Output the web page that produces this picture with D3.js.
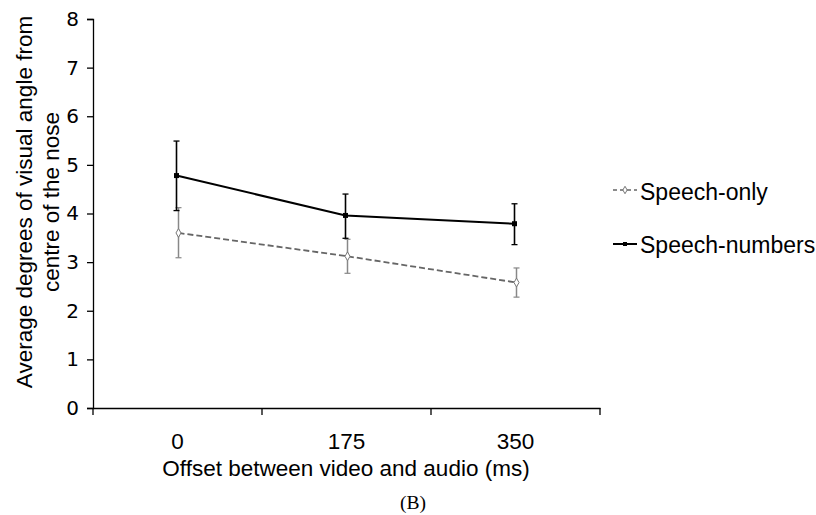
<!DOCTYPE html>
<html>
<head>
<meta charset="utf-8">
<script src="https://cdn.jsdelivr.net/npm/d3@7/dist/d3.min.js"></script>
<style>
  body { margin: 0; background: #fff; }
  text { font-family: "Liberation Sans", Arial, sans-serif; fill: #000; }
</style>
</head>
<body>
<div id="chart"></div>
<script>
// datos
const categories = ['0', '175', '350'];
const yTicks = [0, 1, 2, 3, 4, 5, 6, 7, 8];
const yTitleLines = ['Average degrees of visual angle from', 'centre of the nose'];

const speechOnly = [3.60, 3.12, 2.58];
const speechOnlyLow = [3.09, 2.77, 2.28];
const speechOnlyHigh = [4.12, 3.47, 2.88];

const speechNumbers = [4.78, 3.96, 3.79];
const speechNumbersLow = [4.06, 3.49, 3.36];
const speechNumbersHigh = [5.49, 4.40, 4.20];

const width = 816;
const height = 515;
const plotLeft = 93;
const plotRight = 600;
const plotTop = 19;
const plotBottom = 408;

const svg = d3.select('#chart')
  .append('svg')
  .attr('width', width)
  .attr('height', height);

const x = d3.scaleBand()
  .domain(categories)
  .range([plotLeft, plotRight]);

const y = d3.scaleLinear()
  .domain([0, 8])
  .range([plotBottom, plotTop]);

// eje y
const yAxis = svg.append('g')
  .attr('transform', `translate(${plotLeft},0)`)
  .call(d3.axisLeft(y).tickValues(yTicks).tickSize(6).tickPadding(8));
yAxis.select('.domain').attr('stroke', '#000').attr('stroke-width', 1.3);
yAxis.selectAll('.tick line').attr('stroke', '#000').attr('stroke-width', 1.3);
yAxis.selectAll('.tick text')
  .attr('font-size', 20)
  .style('font-family', '"DejaVu Sans", sans-serif');

// eje x
const xAxis = svg.append('g')
  .attr('transform', `translate(0,${plotBottom})`)
  .call(d3.axisBottom(x).tickSize(0).tickPadding(0));
xAxis.select('.domain').attr('stroke', '#000').attr('stroke-width', 1.3);
xAxis.selectAll('.tick text')
  .attr('font-size', 22.5)
  .attr('y', 41)
  .attr('dy', 0);

// ticks entre categorias
const boundaries = [plotLeft].concat(categories.map(c => x(c) + x.bandwidth()));
svg.append('g')
  .selectAll('line')
  .data(boundaries)
  .enter()
  .append('line')
  .attr('x1', d => d)
  .attr('x2', d => d)
  .attr('y1', plotBottom)
  .attr('y2', plotBottom + 7)
  .attr('stroke', '#000')
  .attr('stroke-width', 1.3);

const cx = (i) => x(categories[i]) + x.bandwidth() / 2;

// serie speech-only (gris, discontinua)
const line = d3.line()
  .x((d, i) => cx(i) + 1)
  .y(d => y(d));

svg.append('path')
  .datum(speechOnly)
  .attr('d', line)
  .attr('fill', 'none')
  .attr('stroke', '#666')
  .attr('stroke-width', 1.8)
  .attr('stroke-dasharray', '6,3');

const errOnly = svg.append('g');
speechOnly.forEach((v, i) => {
  const px = cx(i) + 1;
  errOnly.append('line')
    .attr('x1', px).attr('x2', px)
    .attr('y1', y(speechOnlyLow[i])).attr('y2', y(speechOnlyHigh[i]))
    .attr('stroke', '#888').attr('stroke-width', 1.5);
  [speechOnlyLow[i], speechOnlyHigh[i]].forEach(e => {
    errOnly.append('line')
      .attr('x1', px - 3).attr('x2', px + 3)
      .attr('y1', y(e)).attr('y2', y(e))
      .attr('stroke', '#888').attr('stroke-width', 1.2);
  });
});

svg.append('g')
  .selectAll('path')
  .data(speechOnly)
  .enter()
  .append('path')
  .attr('d', d3.symbol(d3.symbolDiamond, 22))
  .attr('transform', (d, i) => `translate(${cx(i) + 1},${y(d)})`)
  .attr('fill', '#fff')
  .attr('stroke', '#777')
  .attr('stroke-width', 1);

// serie speech-numbers (negra)
const line2 = d3.line()
  .x((d, i) => cx(i) - 1)
  .y(d => y(d));

svg.append('path')
  .datum(speechNumbers)
  .attr('d', line2)
  .attr('fill', 'none')
  .attr('stroke', '#000')
  .attr('stroke-width', 2);

const errNum = svg.append('g');
speechNumbers.forEach((v, i) => {
  const px = cx(i) - 1;
  errNum.append('line')
    .attr('x1', px).attr('x2', px)
    .attr('y1', y(speechNumbersLow[i])).attr('y2', y(speechNumbersHigh[i]))
    .attr('stroke', '#000').attr('stroke-width', 1.6);
  [speechNumbersLow[i], speechNumbersHigh[i]].forEach(e => {
    errNum.append('line')
      .attr('x1', px - 3).attr('x2', px + 3)
      .attr('y1', y(e)).attr('y2', y(e))
      .attr('stroke', '#000').attr('stroke-width', 1.3);
  });
});

svg.append('g')
  .selectAll('rect')
  .data(speechNumbers)
  .enter()
  .append('rect')
  .attr('x', (d, i) => cx(i) - 1 - 2.5)
  .attr('y', d => y(d) - 2.5)
  .attr('width', 5)
  .attr('height', 5)
  .attr('fill', '#000');

// leyenda
const legend = svg.append('g').attr('class', 'legend');
const lg1 = legend.append('g').attr('transform', 'translate(613,190)');
lg1.append('line')
  .attr('x1', 0).attr('x2', 24).attr('y1', 0).attr('y2', 0)
  .attr('stroke', '#666').attr('stroke-width', 1.5)
  .attr('stroke-dasharray', '4,3');
lg1.append('path')
  .attr('d', d3.symbol(d3.symbolDiamond, 16))
  .attr('transform', 'translate(12,0)')
  .attr('fill', '#fff').attr('stroke', '#777');
lg1.append('text')
  .attr('x', 27).attr('y', 9.5)
  .attr('font-size', 23)
  .text('Speech-only');

const lg2 = legend.append('g').attr('transform', 'translate(613,244)');
lg2.append('line')
  .attr('x1', 0).attr('x2', 24).attr('y1', 0).attr('y2', 0)
  .attr('stroke', '#000').attr('stroke-width', 2);
lg2.append('rect')
  .attr('x', 10).attr('y', -2).attr('width', 4).attr('height', 4)
  .attr('fill', '#000');
lg2.append('text')
  .attr('x', 27).attr('y', 8.5)
  .attr('font-size', 23)
  .text('Speech-numbers');

// titulos
svg.append('text')
  .attr('x', 346)
  .attr('y', 475.5)
  .attr('text-anchor', 'middle')
  .attr('font-size', 22.5)
  .text('Offset between video and audio (ms)');

svg.append('g')
  .selectAll('text')
  .data(yTitleLines)
  .enter()
  .append('text')
  .attr('transform', (d, i) => `translate(${32 + i * 27},202) rotate(-90)`)
  .attr('text-anchor', 'middle')
  .attr('font-size', 22.5)
  .text(d => d);

svg.append('text')
  .attr('x', 413)
  .attr('y', 509)
  .attr('text-anchor', 'middle')
  .attr('font-size', 19.5)
  .style('font-family', '"Liberation Serif", "Times New Roman", serif')
  .text('(B)');
</script>
</body>
</html>
